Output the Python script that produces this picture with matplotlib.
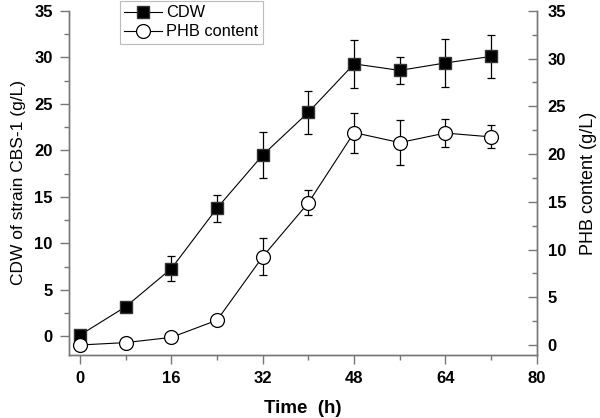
import matplotlib
matplotlib.use("Agg")
import matplotlib.pyplot as plt
from matplotlib.ticker import MultipleLocator
from matplotlib.lines import Line2D

time_h = [0, 8, 16, 24, 32, 40, 48, 56, 64, 72]
cdw = [0.15, 3.2, 7.3, 13.8, 19.5, 24.1, 29.3, 28.6, 29.4, 30.1]
cdw_err = [0.0, 0.0, 1.3, 1.45, 2.45, 2.3, 2.6, 1.45, 2.6, 2.3]
phb = [0.0, 0.25, 0.8, 2.6, 9.25, 14.9, 22.25, 21.2, 22.2, 21.8]
phb_err = [0.0, 0.3, 0.4, 0.0, 1.95, 1.3, 2.1, 2.35, 1.5, 1.2]

plt.rcParams['font.family'] = ['Liberation Sans', 'DejaVu Sans']
spine_c = '#777777'

fig = plt.figure(figsize=(6.0, 4.18), dpi=100)
ax = fig.add_axes([0.1145, 0.1507, 0.78, 0.8233])
ax2 = ax.twinx()

ax.errorbar(time_h, cdw, yerr=cdw_err, color='black', lw=0.8, marker='s', ms=9,
            mfc='black', mec='#333333', capsize=3, elinewidth=0.9, capthick=0.9,
            zorder=3)
ax2.errorbar(time_h, phb, yerr=phb_err, color='black', lw=0.8, marker='o', ms=10,
             mfc='white', mec='black', mew=0.9, capsize=3, elinewidth=0.9, capthick=0.9,
             zorder=3)

ax.set_xlim(-2, 80)
ax.set_ylim(-2, 35)
ax2.set_ylim(-1.05, 35)

ax.xaxis.set_major_locator(MultipleLocator(16))
ax.xaxis.set_minor_locator(MultipleLocator(8))
ax.yaxis.set_major_locator(MultipleLocator(5))
ax.yaxis.set_minor_locator(MultipleLocator(2.5))
ax2.yaxis.set_major_locator(MultipleLocator(5))
ax2.yaxis.set_minor_locator(MultipleLocator(2.5))

for a in (ax, ax2):
    for s in a.spines.values():
        s.set_color(spine_c)
        s.set_linewidth(1.0)
    a.spines['top'].set_visible(False)

ax.tick_params(which='both', direction='out', color=spine_c, width=1.0, labelsize=12)
ax.tick_params(which='major', length=6.5, pad=5)
ax.tick_params(which='minor', length=3.5)
ax2.tick_params(which='both', direction='in', color=spine_c, width=1.0, labelsize=12)
ax2.tick_params(which='major', length=6.5, pad=8)
ax2.tick_params(which='minor', length=3.5)
for a in (ax, ax2):
    for lab in a.get_xticklabels() + a.get_yticklabels():
        lab.set_fontweight('bold')

ax.set_xlabel('Time  (h)', fontsize=13.5, fontweight='bold', labelpad=10)
ax.set_ylabel('CDW of strain CBS-1 (g/L)', fontsize=12.5, labelpad=6)
ax2.set_ylabel('PHB content (g/L)', fontsize=13, labelpad=10)

h1 = Line2D([], [], color='black', lw=0.8, marker='s', ms=9, mfc='black', mec='#333333')
h2 = Line2D([], [], color='black', lw=0.8, marker='o', ms=10, mfc='white', mec='black', mew=0.9)
leg = ax.legend([h1, h2], ['CDW', 'PHB content'], loc='upper left',
                bbox_to_anchor=(0.109, 1.028), fontsize=11.8, frameon=True,
                fancybox=False, handlelength=2.3, handletextpad=0.3,
                borderpad=0.25, labelspacing=0.25, borderaxespad=0)
leg.get_frame().set_edgecolor('#aaaaaa')
leg.get_frame().set_linewidth(0.8)

fig.savefig('out.png', dpi=100)
